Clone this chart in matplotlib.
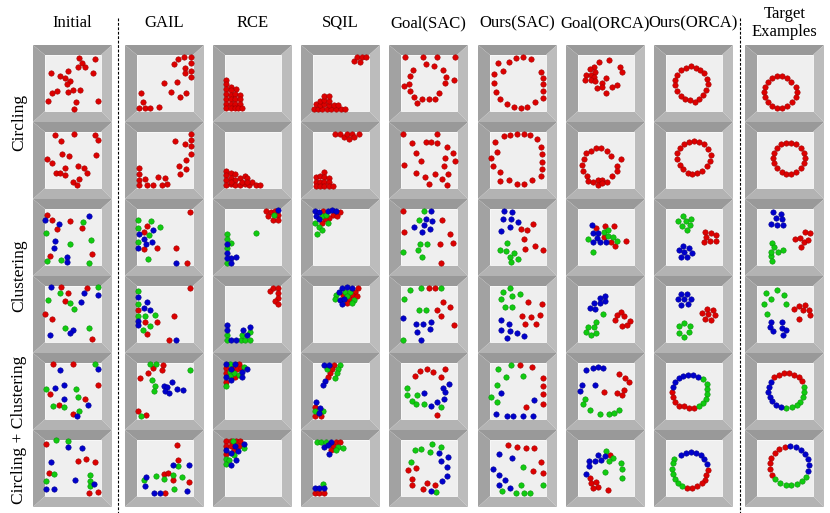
import matplotlib.pyplot as plt
from matplotlib.patches import Polygon, Rectangle
from matplotlib.lines import Line2D

plt.rcParams["font.family"] = ["Liberation Serif", "DejaVu Serif"]

METHODS = ["Initial", "GAIL", "RCE", "SQIL", "Goal(SAC)", "Ours(SAC)",
           "Goal(ORCA)", "Ours(ORCA)", "Target\nExamples"]
TASKS = ["Circling", "Clustering", "Circling + Clustering"]

# agent positions in each arena (56x56 px, x to the right, y downwards)
# r = red, g = green, b = blue agents; one dict per row (6 rows)
INITIAL = [
    {"r": [(34, 3), (50, 4), (37, 8), (33, 12), (40, 12), (6, 18), (23, 16), (48, 18), (15, 21), (20, 23),
           (25, 26), (22, 29), (7, 38), (12, 36), (23, 37), (28, 35), (35, 35), (3, 46), (31, 47), (53, 46), (29, 54)]},
    {"r": [(10, 3), (29, 2), (50, 3), (53, 8), (16, 9), (17, 22), (24, 24), (2, 27), (7, 31), (51, 23),
           (20, 36), (33, 34), (39, 36), (11, 41), (15, 41), (20, 43), (42, 41), (34, 47), (28, 50), (32, 53)]},
    {"r": [(2, 6), (7, 11), (12, 20), (25, 12), (37, 19), (5, 47), (47, 45)],
     "g": [(38, 13), (1, 24), (25, 35), (46, 31), (2, 52), (16, 51), (44, 54)],
     "b": [(0, 11), (14, 15), (44, 7), (10, 32), (9, 39), (22, 48), (22, 53)]},
    {"r": [(16, 1), (23, 7), (42, 2), (20, 15), (0, 28), (7, 33), (47, 53)],
     "g": [(15, 7), (53, 1), (3, 14), (25, 17), (29, 23), (20, 42), (44, 42)],
     "b": [(6, 1), (39, 7), (53, 9), (36, 16), (28, 44), (25, 47), (5, 49)]},
    {"r": [(8, 1), (28, 1), (53, 22), (5, 31), (40, 36), (14, 42), (28, 51)],
     "g": [(50, 1), (1, 26), (31, 26), (33, 34), (8, 43), (19, 44), (34, 48)],
     "b": [(53, 6), (15, 7), (10, 25), (19, 22), (19, 36), (43, 42), (32, 53)]},
    {"r": [(1, 4), (33, 21), (41, 19), (50, 22), (4, 33), (44, 53), (53, 52)],
     "g": [(11, 0), (23, 1), (9, 34), (1, 41), (45, 35), (45, 41), (45, 46)],
     "b": [(23, 7), (37, 8), (6, 22), (30, 40), (49, 44), (1, 49), (9, 49)]},
]

GAIL = [
    {"r": [(47, 2), (41, 4), (54, 2), (37, 9), (54, 8), (48, 13), (54, 16), (48, 18), (54, 22), (27, 28),
           (40, 27), (34, 37), (49, 38), (43, 42), (4, 38), (6, 47), (2, 53), (8, 53), (13, 53), (22, 52)]},
    {"r": [(54, 2), (54, 8), (54, 14), (54, 22), (38, 9), (48, 12), (49, 28), (42, 34), (49, 37), (43, 42),
           (2, 36), (2, 42), (2, 48), (2, 53), (8, 47), (10, 53), (16, 53), (21, 45), (28, 46), (30, 52), (25, 53)]},
    {"r": [(53, 3), (10, 17), (7, 23), (7, 40), (20, 39), (39, 39), (50, 54)],
     "g": [(1, 11), (14, 12), (1, 19), (23, 18), (12, 26), (1, 33), (11, 50)],
     "b": [(16, 21), (2, 25), (7, 30), (15, 33), (9, 35), (1, 39), (39, 54)]},
    {"r": [(53, 2), (1, 24), (8, 36), (20, 36), (10, 48), (37, 30), (32, 54)],
     "g": [(1, 5), (1, 18), (1, 30), (8, 30), (18, 29), (13, 40), (6, 44)],
     "b": [(1, 11), (10, 16), (7, 22), (13, 24), (1, 35), (1, 39), (39, 54)]},
    {"r": [(26, 2), (16, 5), (25, 7), (11, 10), (3, 15), (1, 48), (9, 52)],
     "g": [(13, 1), (19, 1), (53, 7), (15, 17), (18, 23), (17, 28), (4, 53)],
     "b": [(27, 23), (35, 19), (30, 24), (28, 28), (32, 30), (40, 26), (46, 27)]},
    {"r": [(40, 5), (41, 20), (27, 34), (31, 33), (36, 40), (52, 42), (28, 53)],
     "g": [(41, 26), (36, 35), (27, 39), (19, 36), (45, 37), (7, 40), (37, 49)],
     "b": [(36, 25), (52, 25), (9, 37), (8, 46), (17, 53), (23, 53), (50, 51)]},
]

RCE = [
    {"r": [(1, 25), (1, 29), (6, 32), (11, 34), (1, 34), (6, 35), (1, 39), (6, 40), (10, 39), (15, 40), (1, 44),
           (6, 44), (10, 44), (15, 44), (1, 49), (6, 49), (10, 49), (15, 49), (1, 53), (6, 53), (10, 53), (13, 53),
           (17, 53)]},
    {"r": [(1, 39), (1, 43), (6, 41), (10, 42), (1, 48), (6, 46), (10, 48), (15, 46), (20, 44), (22, 46), (1, 53),
           (6, 52), (10, 53), (15, 53), (20, 52), (24, 53), (27, 50), (31, 53), (35, 53), (6, 50), (17, 50),
           (22, 50)]},
    {"r": [(41, 2), (46, 3), (50, 2), (43, 7), (53, 6), (48, 11), (53, 11)],
     "g": [(49, 6), (31, 24), (2, 25), (2, 30), (6, 34), (2, 39), (2, 54)],
     "b": [(53, 1), (2, 35), (2, 44), (6, 49), (11, 48), (2, 49), (6, 54)]},
    {"r": [(45, 5), (48, 2), (53, 2), (53, 7), (53, 12), (50, 15), (53, 18)],
     "g": [(2, 49), (2, 54), (16, 54), (17, 49), (20, 54), (25, 54), (25, 46)],
     "b": [(2, 39), (2, 44), (6, 54), (11, 54), (18, 44), (25, 41), (22, 49)]},
    {"r": [(1, 5), (8, 5), (14, 1), (12, 6), (16, 5), (1, 10), (10, 14), (1, 19)],
     "g": [(5, 1), (19, 4), (5, 9), (9, 10), (5, 13), (14, 12), (1, 23)],
     "b": [(1, 1), (10, 1), (6, 6), (17, 9), (22, 6), (1, 14), (6, 17), (17, 14)]},
    {"r": [(1, 1), (6, 1), (11, 1), (15, 1), (1, 6), (6, 6), (14, 6), (9, 10), (1, 14)],
     "g": [(8, 1), (19, 8), (1, 19), (9, 15), (1, 24), (4, 20)],
     "b": [(10, 6), (19, 4), (1, 10), (13, 11), (6, 13), (11, 20), (6, 25)]},
]

SQIL = [
    {"r": [(41, 6), (44, 2), (49, 2), (53, 2), (47, 7), (1, 54), (5, 54), (9, 54), (14, 54), (18, 54), (23, 54),
           (28, 54), (32, 54), (3, 49), (7, 50), (11, 49), (16, 50), (21, 50), (25, 50), (7, 46), (11, 45),
           (16, 46), (11, 41), (16, 41)]},
    {"r": [(22, 2), (27, 2), (31, 5), (34, 2), (36, 7), (39, 2), (41, 5), (46, 2), (3, 45), (7, 44), (11, 40),
           (11, 45), (16, 46), (3, 50), (7, 50), (11, 50), (16, 50), (3, 54), (7, 54), (11, 54), (16, 54),
           (20, 54)]},
    {"r": [(10, 2), (20, 6), (24, 7), (27, 3), (16, 9), (12, 10), (9, 14)],
     "g": [(9, 7), (13, 6), (2, 14), (15, 14), (6, 18), (9, 21), (4, 25)],
     "b": [(2, 2), (6, 3), (15, 2), (19, 1), (23, 2), (3, 7), (6, 10)]},
    {"r": [(45, 2), (42, 6), (30, 9), (39, 9), (44, 10), (36, 13), (34, 17)],
     "g": [(23, 9), (22, 13), (32, 6), (37, 6), (34, 10), (41, 14), (39, 17)],
     "b": [(29, 2), (34, 1), (39, 2), (26, 6), (27, 14), (31, 13), (29, 18)]},
    {"r": [(21, 2), (19, 6), (17, 10), (15, 14), (2, 44), (2, 53), (8, 53)],
     "g": [(27, 2), (25, 6), (24, 10), (22, 15), (14, 6), (2, 48), (10, 48)],
     "b": [(11, 2), (16, 2), (12, 18), (10, 22), (3, 39), (7, 45), (6, 50)]},
    {"r": [(23, 2), (27, 2), (20, 6), (18, 10), (2, 53), (6, 53), (11, 53)],
     "g": [(4, 2), (8, 2), (13, 2), (25, 7), (30, 8), (23, 10), (10, 44)],
     "b": [(18, 2), (11, 7), (15, 5), (16, 14), (2, 48), (6, 48), (11, 48)]},
]

GOAL_SAC = [
    {"r": [(4, 2), (22, 2), (36, 2), (54, 2), (25, 9), (33, 11), (12, 15), (42, 15), (9, 21), (45, 22), (53, 25),
           (8, 29), (3, 31), (44, 28), (9, 36), (38, 38), (13, 42), (21, 44), (28, 44), (34, 44), (16, 48)]},
    {"r": [(2, 2), (36, 2), (11, 11), (25, 10), (30, 10), (36, 11), (46, 15), (15, 21), (52, 21), (44, 26),
           (54, 29), (20, 29), (3, 33), (43, 34), (15, 41), (34, 42), (47, 42), (24, 45), (41, 47), (28, 52),
           (46, 53)]},
    {"r": [(2, 2), (41, 11), (3, 23), (49, 25), (52, 34), (39, 35), (40, 54)],
     "g": [(23, 2), (18, 11), (19, 35), (26, 35), (17, 41), (2, 43), (21, 48)],
     "b": [(30, 2), (25, 10), (31, 12), (23, 16), (13, 18), (29, 20), (21, 23)]},
    {"r": [(28, 2), (34, 2), (42, 16), (49, 21), (36, 24), (40, 30), (53, 39)],
     "g": [(9, 4), (20, 2), (40, 2), (3, 13), (18, 24), (25, 24), (2, 54)],
     "b": [(2, 32), (15, 38), (22, 38), (30, 36), (29, 43), (16, 46), (20, 54)]},
    {"r": [(14, 13), (19, 8), (26, 6), (32, 9), (40, 14), (44, 6), (36, 52)],
     "g": [(6, 25), (6, 32), (16, 32), (11, 38), (15, 41), (23, 41), (40, 44)],
     "b": [(23, 30), (42, 25), (48, 21), (44, 29), (43, 36), (36, 39), (30, 43)]},
    {"r": [(15, 28), (7, 30), (11, 39), (11, 45), (22, 49), (26, 43), (34, 45)],
     "g": [(14, 10), (20, 9), (29, 12), (31, 4), (40, 7), (10, 22), (35, 52)],
     "b": [(38, 13), (47, 17), (40, 21), (46, 27), (46, 36), (41, 41), (30, 51)]},
]

OURS_SAC = [
    {"r": [(26, 3), (33, 2), (41, 4), (19, 7), (8, 8), (13, 16), (51, 17), (4, 19), (53, 23), (4, 28), (53, 29),
           (6, 37), (53, 36), (10, 44), (53, 43), (17, 49), (45, 47), (24, 52), (31, 53), (37, 52)]},
    {"r": [(14, 4), (20, 3), (27, 2), (34, 2), (40, 3), (47, 7), (5, 10), (51, 15), (7, 20), (52, 22), (1, 26),
           (52, 30), (3, 34), (52, 37), (10, 40), (51, 44), (10, 49), (19, 48), (42, 48), (27, 52), (34, 52)]},
    {"r": [(43, 15), (31, 20), (37, 21), (34, 30), (35, 40), (45, 37), (53, 41)],
     "g": [(17, 34), (10, 41), (16, 42), (24, 44), (20, 48), (28, 50), (21, 53)],
     "b": [(14, 2), (22, 3), (13, 10), (21, 10), (28, 13), (20, 18), (11, 22)]},
    {"r": [(38, 16), (52, 18), (32, 30), (41, 31), (50, 29), (35, 38), (46, 38)],
     "g": [(13, 6), (20, 2), (22, 10), (30, 8), (11, 13), (15, 21), (22, 21)],
     "b": [(11, 34), (19, 38), (11, 44), (20, 45), (27, 47), (34, 50), (17, 52)]},
    {"r": [(30, 2), (42, 4), (53, 15), (53, 23), (53, 31), (53, 41), (36, 44)],
     "g": [(8, 6), (21, 2), (16, 14), (33, 13), (7, 22), (1, 34), (7, 39)],
     "b": [(11, 30), (44, 37), (6, 51), (17, 53), (23, 53), (33, 53), (43, 53)]},
    {"r": [(18, 5), (27, 7), (36, 8), (44, 8), (51, 22), (53, 33), (43, 31)],
     "g": [(33, 27), (31, 45), (12, 51), (26, 53), (34, 53), (40, 53), (53, 45)],
     "b": [(9, 14), (22, 18), (3, 29), (9, 35), (15, 40), (9, 45), (20, 48)]},
]

GOAL_ORCA = [
    {"r": [(21, 7), (31, 5), (16, 12), (12, 14), (42, 12), (8, 20), (13, 20), (17, 17), (16, 22), (44, 17),
           (7, 25), (13, 25), (17, 26), (24, 28), (28, 23), (34, 32), (19, 33), (24, 32), (39, 30), (28, 38)]},
    {"r": [(18, 16), (23, 16), (13, 19), (29, 19), (33, 24), (8, 21), (6, 27), (4, 33), (5, 39), (43, 27),
           (39, 34), (39, 39), (9, 44), (34, 44), (10, 49), (15, 50), (20, 48), (24, 48), (29, 50), (20, 53),
           (24, 51)]},
    {"r": [(18, 19), (27, 17), (36, 17), (26, 28), (33, 33), (37, 37), (48, 32)],
     "g": [(26, 23), (30, 21), (30, 27), (35, 28), (10, 30), (39, 32), (15, 43)],
     "b": [(14, 16), (15, 24), (20, 24), (19, 29), (15, 33), (22, 33), (28, 33)]},
    {"r": [(43, 26), (39, 29), (46, 30), (37, 34), (52, 35), (44, 40), (49, 39)],
     "g": [(25, 28), (18, 36), (10, 41), (16, 41), (8, 46), (13, 49), (18, 47)],
     "b": [(27, 10), (22, 12), (27, 15), (22, 17), (16, 17), (12, 22), (17, 23)]},
    {"r": [(41, 11), (47, 15), (51, 19), (46, 27), (39, 30), (44, 32), (26, 29)],
     "g": [(7, 36), (5, 41), (12, 47), (22, 51), (31, 51), (36, 50), (41, 47)],
     "b": [(8, 7), (15, 5), (20, 4), (25, 5), (4, 22), (2, 28), (17, 22)]},
    {"r": [(32, 15), (12, 38), (13, 43), (18, 42), (20, 47), (15, 48), (30, 50)],
     "g": [(28, 11), (35, 18), (31, 21), (43, 23), (44, 29), (44, 38), (27, 32)],
     "b": [(20, 15), (11, 21), (17, 21), (23, 20), (27, 16), (11, 26), (8, 34)]},
]

OURS_ORCA = [
    {"r": [(25, 11), (30, 13), (20, 13), (34, 15), (15, 15), (38, 18), (11, 20), (41, 24), (9, 25), (42, 29),
           (9, 30), (40, 35), (11, 36), (37, 40), (15, 41), (33, 44), (19, 44), (29, 47), (24, 45)]},
    {"r": [(28, 9), (23, 10), (33, 10), (18, 12), (38, 12), (14, 16), (42, 17), (11, 21), (45, 23), (11, 27),
           (44, 29), (14, 33), (41, 34), (17, 37), (36, 39), (22, 41), (31, 41), (26, 42)]},
    {"r": [(39, 23), (45, 24), (50, 26), (38, 33), (44, 32), (50, 32), (40, 28)],
     "g": [(17, 7), (12, 12), (20, 12), (25, 10), (16, 17), (24, 16), (21, 21)],
     "b": [(17, 37), (13, 41), (18, 43), (23, 39), (26, 44), (15, 48), (21, 48)]},
    {"r": [(41, 23), (47, 24), (36, 27), (42, 28), (49, 29), (39, 33), (45, 34)],
     "g": [(18, 37), (13, 40), (24, 40), (13, 47), (18, 51), (23, 46)],
     "b": [(15, 8), (21, 8), (12, 13), (18, 13), (25, 13), (15, 19), (22, 18)]},
    {"r": [(6, 29), (7, 34), (9, 39), (13, 43), (18, 43), (23, 45), (28, 45)],
     "g": [(37, 16), (41, 21), (41, 26), (41, 31), (40, 36), (37, 40), (33, 43)],
     "b": [(7, 24), (9, 19), (13, 15), (17, 13), (22, 12), (27, 12), (32, 14)]},
    {"r": [(42, 30), (40, 35), (39, 40), (36, 43), (31, 46), (26, 48), (21, 48)],
     "g": [(8, 19), (7, 23), (6, 29), (7, 34), (9, 39), (12, 43), (16, 46)],
     "b": [(15, 15), (20, 13), (25, 12), (30, 13), (35, 15), (38, 19), (41, 24)]},
]

TARGET = [
    {"r": [(20, 21), (25, 21), (15, 23), (30, 23), (11, 27), (34, 27), (8, 32), (39, 32), (7, 37), (40, 37),
           (8, 42), (39, 42), (11, 47), (35, 47), (15, 51), (30, 51), (20, 53), (25, 53)]},
    {"r": [(29, 11), (34, 11), (24, 12), (39, 12), (20, 16), (44, 16), (17, 21), (47, 21), (16, 26), (48, 26),
           (17, 31), (47, 31), (20, 36), (44, 36), (25, 40), (39, 40), (29, 42), (34, 42)]},
    {"r": [(48, 23), (53, 24), (38, 30), (43, 29), (47, 33), (51, 31), (44, 38)],
     "g": [(15, 34), (17, 38), (21, 43), (26, 41), (14, 47), (15, 52), (14, 43)],
     "b": [(16, 3), (24, 5), (19, 9), (25, 10), (14, 15), (20, 16), (26, 16)]},
    {"r": [(37, 23), (42, 20), (48, 19), (46, 24), (52, 24), (53, 29), (42, 33)],
     "g": [(20, 4), (9, 7), (27, 9), (14, 13), (7, 18), (29, 18), (10, 28)],
     "b": [(14, 36), (13, 41), (16, 45), (25, 36), (25, 42), (29, 44), (26, 49)]},
    {"r": [(17, 14), (22, 12), (27, 10), (32, 10), (37, 12), (42, 14), (45, 18)],
     "g": [(47, 24), (47, 29), (46, 34), (43, 39), (40, 42), (35, 44), (29, 45)],
     "b": [(14, 19), (12, 24), (11, 29), (13, 34), (15, 38), (19, 42), (24, 44)]},
    {"r": [(28, 7), (22, 9), (18, 13), (14, 18), (13, 23), (13, 29), (15, 35)],
     "g": [(49, 37), (45, 41), (40, 44), (34, 45), (29, 45), (23, 43), (18, 39)],
     "b": [(33, 6), (39, 7), (44, 10), (48, 14), (51, 19), (52, 25), (51, 31)]},
]

COLUMNS = [INITIAL, GAIL, RCE, SQIL, GOAL_SAC, OURS_SAC, GOAL_ORCA, OURS_ORCA, TARGET]

# layout in pixels of the 830x513 canvas
W, H = 830, 513
COL_LEFT = [33, 125, 213, 301, 389, 478, 566, 654, 745]
ROW_TOP = [45, 122, 199, 276, 353, 430]
CELL_W, CELL_H = 79, 77
DOT_FACE = {"r": "#dd0000", "g": "#10cc10", "b": "#0000cc"}
DOT_EDGE = {"r": "#a00000", "g": "#089008", "b": "#000090"}


def draw_cell(ax, cell):
    # bevelled frame around a 56x56 arena
    ax.add_patch(Polygon([(-12, -10), (67, -10), (56, 0), (0, 0)], fc="#999999", ec="none"))
    ax.add_patch(Polygon([(-12, -10), (0, 0), (0, 56), (-12, 67)], fc="#a2a2a2", ec="none"))
    ax.add_patch(Polygon([(67, -10), (67, 67), (56, 56), (56, 0)], fc="#bcbcbc", ec="none"))
    ax.add_patch(Polygon([(-12, 67), (0, 56), (56, 56), (67, 67)], fc="#b3b3b3", ec="none"))
    ax.add_patch(Rectangle((0, 0), 56, 56, fc="#efefef", ec="#f8f8f8", lw=0.6))
    for key, pts in cell.items():
        xs = [p[0] for p in pts]
        ys = [p[1] for p in pts]
        ax.scatter(xs, ys, s=15, c=DOT_FACE[key], edgecolors=DOT_EDGE[key],
                   linewidths=0.4, zorder=3)
    ax.set_xlim(-12, 67)
    ax.set_ylim(67, -10)
    ax.axis("off")


fig = plt.figure(figsize=(W / 100, H / 100), dpi=100)

for ci, column in enumerate(COLUMNS):
    for ri, cell in enumerate(column):
        ax = fig.add_axes([COL_LEFT[ci] / W, 1 - (ROW_TOP[ri] + CELL_H) / H,
                           CELL_W / W, CELL_H / H])
        draw_cell(ax, cell)
    fig.text((COL_LEFT[ci] + CELL_W / 2) / W, 1 - 23 / H, METHODS[ci],
             ha="center", va="center", fontsize=12, linespacing=1.15)

# task names, each one spans two rows
for ti, task in enumerate(TASKS):
    yc = ROW_TOP[2 * ti] + CELL_H
    fig.text(19 / W, 1 - yc / H, task, rotation=90, ha="center", va="center", fontsize=12.5)

for xd in (118, 740):
    fig.add_artist(Line2D([xd / W, xd / W], [1 - 18 / H, 0], color="black",
                          lw=0.8, ls=(0, (2.5, 1.5))))

fig.savefig("out.png", dpi=100)
